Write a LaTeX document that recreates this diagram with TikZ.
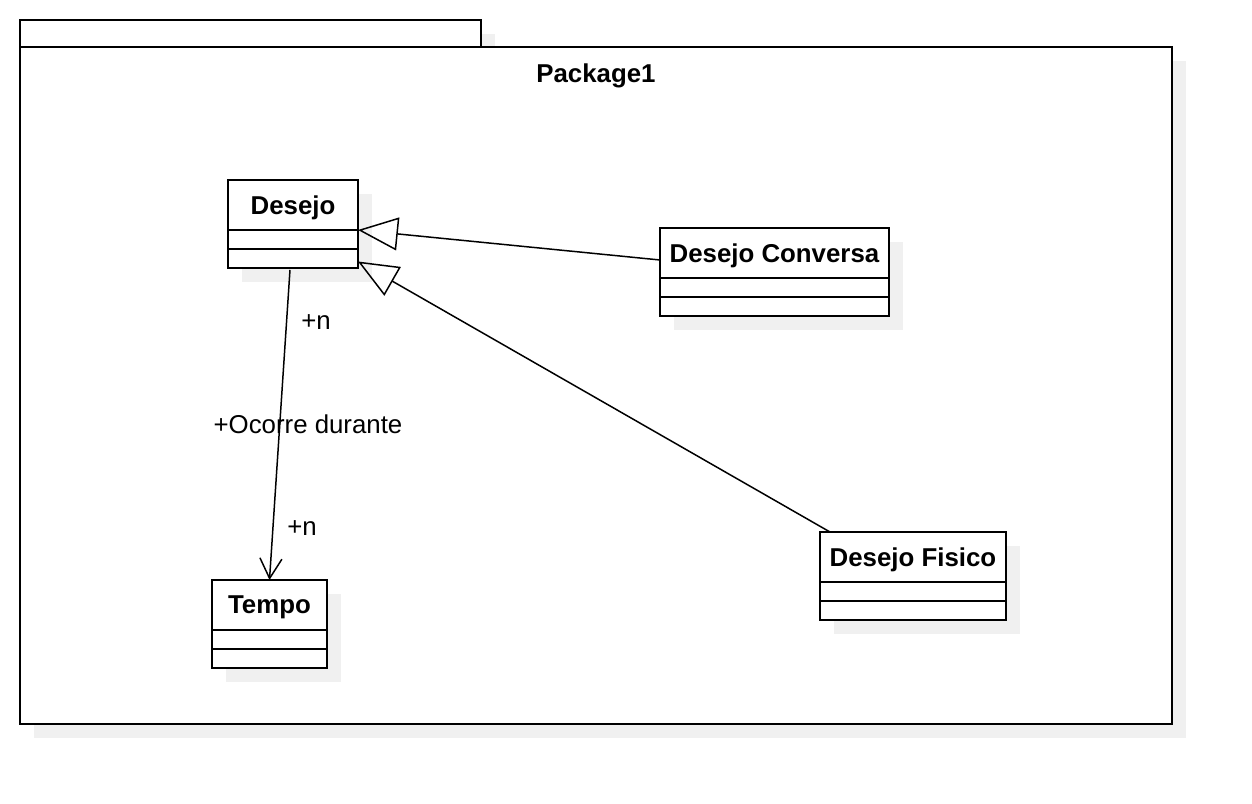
\documentclass[tikz,border=0pt]{standalone}
\usepackage{fontspec}
\setmainfont{Liberation Sans}
\usetikzlibrary{positioning, arrows.meta, shadows}

\newcommand{\umlfont}{\fontsize{14.7pt}{17pt}\selectfont}

\tikzset{
    boxshadow/.style={drop shadow={shadow xshift=0.28cm, shadow yshift=-0.28cm, fill=black!6, opacity=1}},
    pkg/.style={draw, fill=white, line width=1.1pt, inner sep=0pt, outer sep=0pt, anchor=north west, boxshadow},
    cls/.style={draw, fill=white, line width=1.1pt, inner sep=0pt, outer sep=0pt, anchor=north west, minimum height=1cm, text depth=0pt, font=\umlfont\bfseries, boxshadow},
    comp/.style={draw, fill=white, line width=1.1pt, inner sep=0pt, outer sep=0pt, minimum height=0.38cm, boxshadow},
    gen/.style={line width=0.85pt, -{Triangle[open, length=0.8cm, width=0.66cm]}},
    assoc/.style={line width=0.85pt, -{Straight Barb[length=0.4cm, width=0.44cm]}},
    lbl/.style={font=\umlfont, inner sep=0pt, yshift=-0.04cm}
}

\begin{document}
\begin{tikzpicture}[x=0.02cm, y=-0.02cm]
    \useasboundingbox (0, 0) rectangle (1252, 804);

    % package
    \node[pkg, minimum width=9.22cm, minimum height=0.54cm] (tab) at (20, 20) {};
    \node[pkg, minimum width=23.04cm, minimum height=13.54cm] (pkg) at (20, 47) {};
    \node[lbl, font=\umlfont\bfseries] (pkgname) at (596, 74) {Package1};

    % classes
    \node[cls, minimum width=2.6cm] (desejo) at (228, 180) {Desejo};
    \node[comp, minimum width=2.6cm, below=0pt of desejo] (desejo a) {};
    \node[comp, minimum width=2.6cm, below=0pt of desejo a] (desejo b) {};

    \node[cls, minimum width=4.58cm] (conversa) at (660, 228) {Desejo Conversa};
    \node[comp, minimum width=4.58cm, below=0pt of conversa] (conversa a) {};
    \node[comp, minimum width=4.58cm, below=0pt of conversa a] (conversa b) {};

    \node[cls, minimum width=2.3cm] (tempo) at (212, 580) {Tempo};
    \node[comp, minimum width=2.3cm, below=0pt of tempo] (tempo a) {};
    \node[comp, minimum width=2.3cm, below=0pt of tempo a] (tempo b) {};

    \node[cls, minimum width=3.72cm] (fisico) at (820, 532) {Desejo Fisico};
    \node[comp, minimum width=3.72cm, below=0pt of fisico] (fisico a) {};
    \node[comp, minimum width=3.72cm, below=0pt of fisico a] (fisico b) {};

    % relations
    \draw[assoc] ([xshift=-0.06cm, yshift=-0.04cm]desejo b.south) -- (tempo.north);
    \draw[gen] ([yshift=-0.14cm]conversa.west) -- (desejo a.north east);
    \draw[gen] ([xshift=0.2cm]fisico.north west) -- ([yshift=-0.06cm]desejo b.east);

    \node[lbl] (n top) at (316, 320) {+n};
    \node[lbl] (ocorre) at (308, 422) {+Ocorre durante};
    \node[lbl] (n bottom) at (302, 526) {+n};
\end{tikzpicture}
\end{document}
